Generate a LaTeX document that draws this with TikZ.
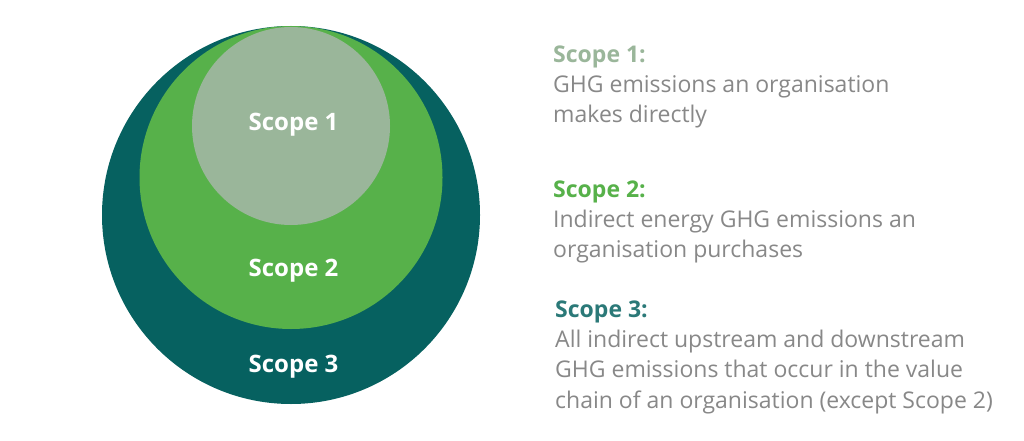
\documentclass[tikz,border=0pt]{standalone}
\usepackage{fontspec}
\setsansfont{Open Sans}
\usetikzlibrary{positioning}
\definecolor{scopeone}{HTML}{9AB69A}
\definecolor{scopetwo}{HTML}{57B14A}
\definecolor{scopethree}{HTML}{066160}
\definecolor{bodygray}{HTML}{888888}

\begin{document}
\begin{tikzpicture}[x=1pt,y=-1pt,
  disc/.style={circle,inner sep=0pt,draw=none},
  inlabel/.style={text=white,font=\sffamily\bfseries\fontsize{24}{28}\selectfont,anchor=base,inner sep=0pt},
  legend/.style={align=left,anchor=north west,inner sep=0pt,text=bodygray,
    font=\sffamily\fontsize{23}{30.3}\selectfont}]
  \useasboundingbox[fill=white] (0,0) rectangle (1024,441);

  \node[disc,fill=scopethree,minimum size=378pt] (S3) at (291,215) {};
  \node[disc,fill=scopetwo,minimum size=303pt] (S2) at (291,177.5) {};
  \node[disc,fill=scopeone,minimum size=198pt] (S1) at (291,126) {};

  \node[inlabel] (L1) at (293.5,130) {Scope 1};
  \node[inlabel] (L2) at (293.5,276.5) {Scope 2};
  \node[inlabel] (L3) at (293.5,372) {Scope 3};

  \node[legend] (T1) at (553,45.5) {\textcolor{scopeone}{\bfseries Scope 1:}\\
    GHG emissions an organisation\\makes directly};
  \node[legend] (T2) at (553,180.5) {\textcolor{scopetwo}{\bfseries Scope 2:}\\
    Indirect energy GHG emissions an\\organisation purchases};
  \node[legend] (T3) at (555,300.5) {\textcolor{scopethree!85!white}{\bfseries Scope 3:}\\
    All indirect upstream and downstream\\GHG emissions that occur in the value\\
    chain of an organisation (except Scope 2)};
\end{tikzpicture}
\end{document}
